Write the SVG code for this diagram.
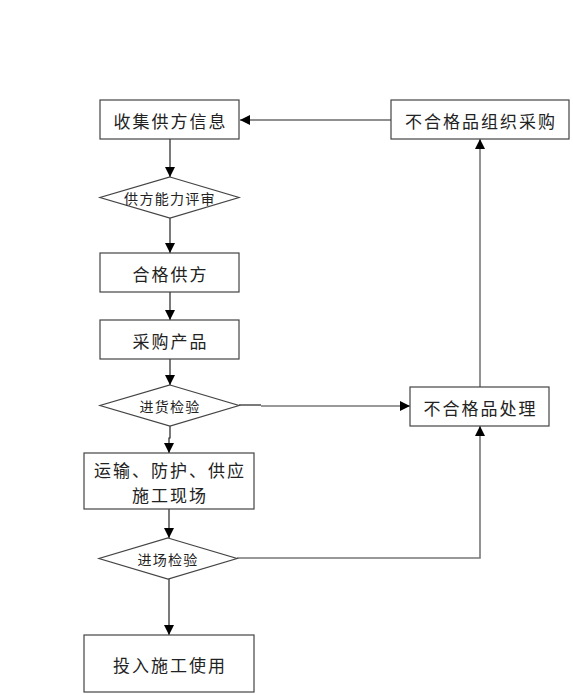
<svg xmlns="http://www.w3.org/2000/svg" width="573" height="695" viewBox="0 0 573 695">
<defs>
<style>
.box{fill:#fff;stroke:#444;stroke-width:1.2}
.t{font-family:"Noto Sans CJK SC","Noto Sans",sans-serif;font-size:17px;fill:#222;text-anchor:middle;dominant-baseline:central;letter-spacing:2px}
.ts{font-family:"Noto Sans CJK SC","Noto Sans",sans-serif;font-size:14px;fill:#222;text-anchor:middle;dominant-baseline:central;letter-spacing:1.3px}
.c{fill:none;stroke:#222;stroke-width:1.2}
.g{fill:none;stroke:#777;stroke-width:1.6}
</style>
<marker id="ah" viewBox="0 0 10 10" refX="10" refY="5" markerWidth="10" markerHeight="10" markerUnits="userSpaceOnUse" orient="auto">
<path d="M0,0 L10,5 L0,10 Z" fill="#000"/>
</marker>
</defs>
<rect width="573" height="695" fill="#fff"/>
<g id="connectors">
<path class="c" d="M170,139 V177" marker-end="url(#ah)"/>
<path class="c" d="M170,218 V253" marker-end="url(#ah)"/>
<path class="c" d="M170,292 V320" marker-end="url(#ah)"/>
<path class="c" d="M170,359 V385" marker-end="url(#ah)"/>
<path class="c" d="M170,426 V438 H169 V453" marker-end="url(#ah)"/>
<path class="c" d="M169,509 V538" marker-end="url(#ah)"/>
<path class="c" d="M169,579 V635" marker-end="url(#ah)"/>
<path class="c" d="M391,120 H240" marker-end="url(#ah)"/>
<path class="c" d="M239,405 H261"/>
<path class="g" d="M261,406 H410" marker-end="url(#ah)"/>
<path class="g" d="M237,558 H480 V426" marker-end="url(#ah)"/>
<path class="g" d="M480,387 V139" marker-end="url(#ah)"/>
</g>
<g id="n1"><rect class="box" x="100" y="100" width="139" height="39"/><text class="t" x="170.5" y="120">收集供方信息</text></g>
<g id="n2"><polygon class="box" points="170,177 239,197.5 170,218 100,197.5"/><text class="ts" x="170" y="198">供方能力评审</text></g>
<g id="n3"><rect class="box" x="100" y="253" width="139" height="39"/><text class="t" x="170.5" y="273">合格供方</text></g>
<g id="n4"><rect class="box" x="100" y="320" width="139" height="39"/><text class="t" x="170.5" y="340">采购产品</text></g>
<g id="n5"><polygon class="box" points="170,385 239,405.5 170,426 100,405.5"/><text class="ts" x="170" y="406">进货检验</text></g>
<g id="n6"><rect class="box" x="84" y="453" width="170" height="56"/><text class="t" x="170" y="469">运输、防护、供应</text><text class="t" x="170" y="494">施工现场</text></g>
<g id="n7"><polygon class="box" points="168,538 237,558.5 168,579 99,558.5"/><text class="ts" x="168" y="559">进场检验</text></g>
<g id="n8"><rect class="box" x="84" y="635" width="170" height="57"/><text class="t" x="170" y="664">投入施工使用</text></g>
<g id="n9"><rect class="box" x="391" y="100" width="178" height="39"/><text class="t" x="481" y="120">不合格品组织采购</text></g>
<g id="n10"><rect class="box" x="410" y="387" width="139" height="39"/><text class="t" x="480.5" y="407">不合格品处理</text></g>
</svg>
